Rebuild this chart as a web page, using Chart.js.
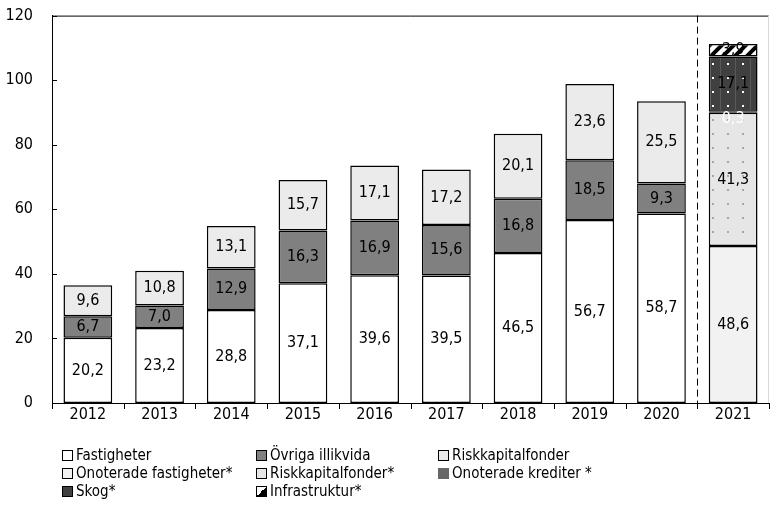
<!DOCTYPE html>
<html>
<head>
<meta charset="utf-8">
<script src="https://cdn.jsdelivr.net/npm/chart.js@4/dist/chart.umd.min.js"></script>
<style>
  body { margin: 0; background: #fff; overflow: hidden; }
  #wrap { position: relative; width: 770px; height: 508px; overflow: hidden; }
  #barChart { position: absolute; left: 0; top: -13px; }
  #legend {
    position: absolute; left: 62px; top: 446px;
    display: grid; grid-template-columns: 194px 182px auto;
    font: 15px "Liberation Sans Narrow", "DejaVu Sans Condensed", sans-serif;
    line-height: 18px; color: #000;
  }
  #legend span { display: flex; align-items: center; white-space: nowrap; }
  #legend i { display: inline-block; width: 9px; height: 9px; border: 1px solid #000; margin-right: 3px; }
</style>
</head>
<body>
<div id="wrap">
  <canvas id="barChart" width="770" height="521"></canvas>
  <div id="legend"></div>
</div>
<script>
const FONT = '"Liberation Sans Narrow", "DejaVu Sans Condensed", sans-serif';

const years = ['2012', '2013', '2014', '2015', '2016', '2017', '2018', '2019', '2020', '2021'];
const fastigheter = [20.2, 23.2, 28.8, 37.1, 39.6, 39.5, 46.5, 56.7, 58.7, null];
const ovrigaIllikvida = [6.7, 7.0, 12.9, 16.3, 16.9, 15.6, 16.8, 18.5, 9.3, null];
const riskkapital = [9.6, 10.8, 13.1, 15.7, 17.1, 17.2, 20.1, 23.6, 25.5, null];
const onoteradeFast = [null, null, null, null, null, null, null, null, null, 48.6];
const riskkapitalStar = [null, null, null, null, null, null, null, null, null, 41.3];
const onoteradeKred = [null, null, null, null, null, null, null, null, null, 0.3];
const skog = [null, null, null, null, null, null, null, null, null, 17.1];
const infrastruktur = [null, null, null, null, null, null, null, null, null, 3.9];

// small canvas tiles for the 2021 fills
function dots(bg, dot, line) {
    const c = document.createElement('canvas');
    c.width = 15; c.height = 14;
    const g = c.getContext('2d');
    g.fillStyle = bg; g.fillRect(0, 0, 15, 14);
    if (line) {
        g.fillStyle = line;
        g.fillRect(0, 0, 1, 14);
    }
    g.fillStyle = dot; g.fillRect(7, 6, 2, 2);
    return g.createPattern(c, 'repeat');
}
function stripes() {
    const c = document.createElement('canvas');
    c.width = 12; c.height = 12;
    const g = c.getContext('2d');
    g.fillStyle = '#fff'; g.fillRect(0, 0, 12, 12);
    g.strokeStyle = '#000'; g.lineWidth = 4;
    g.beginPath();
    g.moveTo(-3, 15); g.lineTo(15, -3);
    g.moveTo(-9, 9); g.lineTo(9, -9);
    g.moveTo(3, 21); g.lineTo(21, 3);
    g.stroke();
    return g.createPattern(c, 'repeat');
}

const series = [
    { label: 'Fastigheter', data: fastigheter, fill: '#ffffff', box: '#ffffff' },
    { label: 'Övriga illikvida', data: ovrigaIllikvida, fill: '#808080', box: '#808080' },
    { label: 'Riskkapitalfonder', data: riskkapital, fill: '#ebebeb', box: '#ebebeb' },
    { label: 'Onoterade fastigheter*', data: onoteradeFast, fill: '#f2f2f2', box: '#f2f2f2' },
    { label: 'Riskkapitalfonder*', data: riskkapitalStar, fill: dots('#e6e6e6', '#a8a8a8'), box: '#e6e6e6' },
    { label: 'Onoterade krediter *', data: onoteradeKred, fill: '#666666', box: '#666666', text: '#fff', shift: 7 },
    { label: 'Skog*', data: skog, fill: dots('#404040', '#ffffff', '#595959'), box: '#404040' },
    { label: 'Infrastruktur*', data: infrastruktur, fill: stripes(), box: 'linear-gradient(to bottom right, #fff 50%, #000 50%)' }
];

const valueLabels = {
    id: 'valueLabels',
    afterDatasetsDraw(chart) {
        const ctx = chart.ctx;
        ctx.save();
        ctx.font = '16px ' + FONT;
        ctx.textAlign = 'center';
        ctx.textBaseline = 'middle';
        chart.data.datasets.forEach((ds, i) => {
            chart.getDatasetMeta(i).data.forEach((bar, j) => {
                const v = ds.data[j];
                if (v == null) return;
                ctx.fillStyle = series[i].text || '#000';
                ctx.fillText(v.toFixed(1).replace('.', ','), bar.x, (bar.y + bar.base) / 2 + (series[i].shift || 0));
            });
        });
        ctx.restore();
    }
};

const axisMarks = {
    id: 'axisMarks',
    afterDraw(chart) {
        const ctx = chart.ctx, a = chart.chartArea;
        const x = chart.scales.x, y = chart.scales.y;
        ctx.save();
        ctx.strokeStyle = '#000';
        ctx.lineWidth = 1;
        ctx.beginPath();
        // y ticks pointing inward
        y.ticks.forEach((t, i) => {
            const py = Math.round(y.getPixelForTick(i)) + 0.5;
            ctx.moveTo(a.left, py); ctx.lineTo(a.left + 5, py);
        });
        // x ticks between categories, below the axis
        for (let i = 0; i <= years.length; i++) {
            const px = Math.round(a.left + i * (a.right - a.left) / years.length) + 0.5;
            ctx.moveTo(px, a.bottom); ctx.lineTo(px, a.bottom + 6);
        }
        // top frame line
        ctx.moveTo(a.left, a.top + 0.5); ctx.lineTo(a.right, a.top + 0.5);
        ctx.stroke();
        ctx.strokeStyle = '#d9d9d9';
        ctx.beginPath();
        ctx.moveTo(a.right - 0.5, a.top); ctx.lineTo(a.right - 0.5, a.bottom);
        ctx.stroke();
        // dashed separator before 2021
        const sx = Math.round((x.getPixelForTick(8) + x.getPixelForTick(9)) / 2) + 0.5;
        ctx.strokeStyle = '#000';
        ctx.setLineDash([7, 4]);
        ctx.beginPath();
        ctx.moveTo(sx, a.top); ctx.lineTo(sx, a.bottom + 5);
        ctx.stroke();
        ctx.restore();
    }
};

new Chart(document.getElementById('barChart'), {
    type: 'bar',
    data: {
        labels: years,
        datasets: series.map(s => ({
            label: s.label,
            data: s.data,
            backgroundColor: s.fill,
            borderColor: '#000',
            borderWidth: 1.5,
            borderSkipped: false,
            barPercentage: 0.68,
            categoryPercentage: 1
        }))
    },
    options: {
        responsive: false,
        animation: false,
        layout: { padding: { top: 2, right: 1, bottom: 70, left: 0 } },
        plugins: { legend: { display: false }, tooltip: { enabled: false } },
        scales: {
            x: {
                stacked: true,
                grid: { display: false, drawTicks: false },
                border: { color: '#000', width: 1 },
                ticks: { color: '#000', font: { family: FONT, size: 16 }, padding: 2 },
                afterFit: s => { s.height = 35; }
            },
            y: {
                stacked: true,
                min: 0, max: 120,
                grid: { display: false, drawTicks: false },
                border: { color: '#000', width: 1 },
                ticks: { stepSize: 20, color: '#000', font: { family: FONT, size: 16 }, padding: 19 },
                afterFit: s => { s.width = 52; }
            }
        }
    },
    plugins: [valueLabels, axisMarks]
});

const legend = document.getElementById('legend');
series.forEach(s => {
    const item = document.createElement('span');
    const box = document.createElement('i');
    box.style.background = s.box;
    if (s.label.startsWith('Onoterade krediter')) box.style.borderColor = '#666';
    item.appendChild(box);
    item.appendChild(document.createTextNode(s.label));
    legend.appendChild(item);
});
</script>
</body>
</html>
